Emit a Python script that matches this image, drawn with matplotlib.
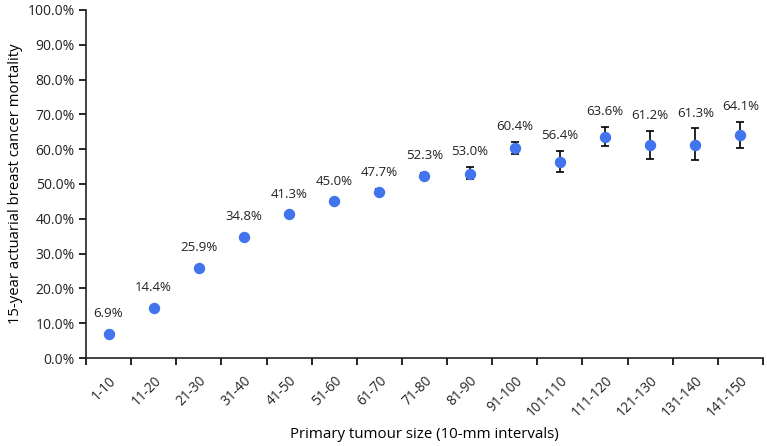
import matplotlib
matplotlib.use("Agg")
import matplotlib.pyplot as plt
import numpy as np
from matplotlib.ticker import FuncFormatter

# 15-year actuarial mortality by tumour size
size_groups = ["1-10", "11-20", "21-30", "31-40", "41-50", "51-60", "61-70", "71-80",
               "81-90", "91-100", "101-110", "111-120", "121-130", "131-140", "141-150"]
mortality = [6.9, 14.4, 25.9, 34.8, 41.3, 45.0, 47.7, 52.3,
             53.0, 60.4, 56.4, 63.6, 61.2, 61.3, 64.1]
err_low = [0.3, 0.4, 0.5, 0.5, 0.6, 0.7, 0.9, 1.0,
           1.7, 1.7, 2.9, 2.7, 3.9, 4.4, 3.7]
err_high = [0.3, 0.4, 0.5, 0.5, 0.6, 0.7, 0.9, 1.0,
            2.0, 1.8, 3.2, 2.9, 4.1, 4.7, 3.8]

plt.rcParams['font.family'] = ['Open Sans', 'DejaVu Sans']

fig = plt.figure(figsize=(7.67, 4.46), dpi=100)
ax = fig.add_axes([0.1121, 0.1973, 0.8827, 0.7803])

x = np.arange(len(size_groups))
ax.errorbar(x, mortality, yerr=[err_low, err_high], fmt='none', ecolor='black',
            elinewidth=1.2, capsize=3.2, capthick=1.2, zorder=2)
ax.plot(x, mortality, 'o', color='#4274EE', markersize=7.2, zorder=3)

ax.set_xlim(-0.5, len(size_groups) - 0.5)
ax.set_ylim(0, 100)

# data labels above the point / error bar
px_per_unit = ax.transData.transform((0, 1))[1] - ax.transData.transform((0, 0))[1]
for xi, v, eh in zip(x, mortality, err_high):
    off_px = max(20, eh * px_per_unit + 15)
    ax.annotate(f"{v:.1f}%", (xi, v), xytext=(0, off_px * 72 / 100),
                textcoords='offset points', ha='center', va='center', fontsize=9.5,
                color='#222222')

ax.set_yticks(np.arange(0, 101, 10))
ax.yaxis.set_major_formatter(FuncFormatter(lambda v, p: f"{v:.1f}%"))
ax.set_xticks(x)
ax.set_xticklabels(size_groups, rotation=45, ha='right', va='top',
                   rotation_mode='anchor')
ax.set_xticks(np.arange(-0.5, len(size_groups)), minor=True)
ax.tick_params(axis='x', which='major', length=0, pad=11, labelsize=9.8)
ax.tick_params(axis='x', which='minor', length=5, width=1.2, direction='out')
ax.tick_params(axis='y', length=5, width=1.2, labelsize=10, pad=3)
for lbl in ax.get_xticklabels() + ax.get_yticklabels():
    lbl.set_color('#222222')

for s in ['top', 'right']:
    ax.spines[s].set_visible(False)
for s in ['left', 'bottom']:
    ax.spines[s].set_linewidth(1.2)
    ax.spines[s].set_color('#222222')

ax.set_ylabel("15-year actuarial breast cancer mortality", fontsize=10.7, labelpad=3)
ax.set_xlabel("Primary tumour size (10-mm intervals)", fontsize=10.8)
ax.xaxis.set_label_coords(0.5, -0.198)

plt.savefig("out.png", dpi=100)
